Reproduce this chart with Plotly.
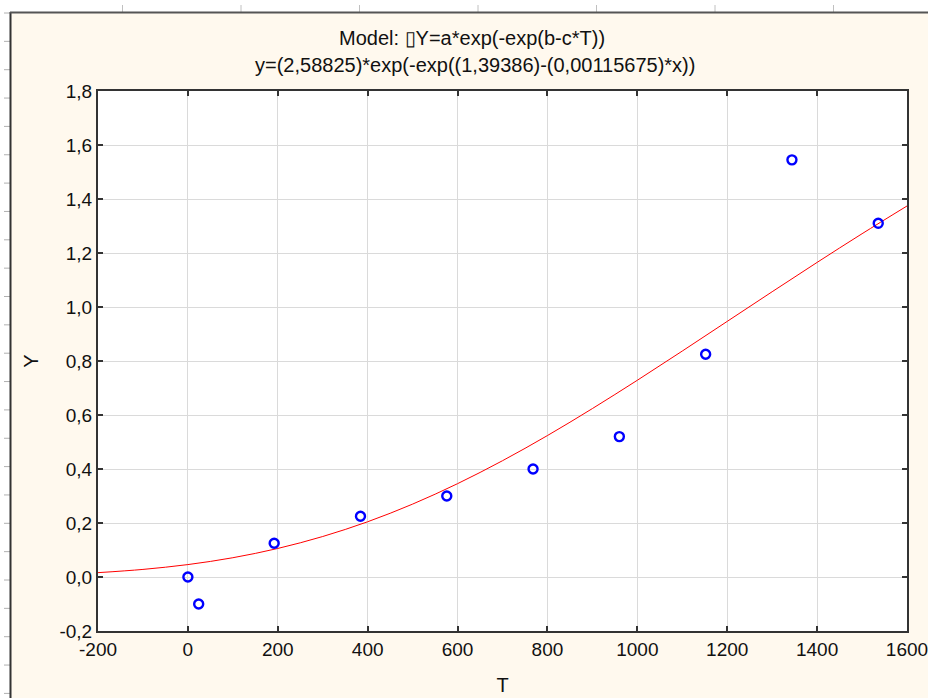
import plotly.graph_objects as go

# ---- data ----
T_obs = [0, 24, 192, 384, 576, 768, 960, 1152, 1344, 1536]
Y_obs = [0.0, -0.10, 0.125, 0.225, 0.30, 0.40, 0.52, 0.825, 1.545, 1.31]

# fitted model curve (values along the red line)
curve_T = [-200, -100, 0, 100, 200, 300, 400, 500, 600, 700, 800, 900,
           1000, 1100, 1200, 1300, 1400, 1500, 1600]
curve_Y = [0.0161, 0.0281, 0.0460, 0.0714, 0.1057, 0.1500, 0.2046, 0.2700,
           0.3457, 0.4307, 0.5239, 0.6238, 0.7287, 0.8368, 0.9467, 1.0566,
           1.1652, 1.2714, 1.3741]

x_tickvals = [-200, 0, 200, 400, 600, 800, 1000, 1200, 1400, 1600]
x_ticktext = ["-200", "0", "200", "400", "600", "800", "1000", "1200", "1400", "1600"]
y_tickvals = [-0.2, 0.0, 0.2, 0.4, 0.6, 0.8, 1.0, 1.2, 1.4, 1.6, 1.8]
y_ticktext = ["-0,2", "0,0", "0,2", "0,4", "0,6", "0,8", "1,0", "1,2", "1,4", "1,6", "1,8"]

title_line1 = "Model: \u25afY=a*exp(-exp(b-c*T))"
title_line2 = "y=(2,58825)*exp(-exp((1,39386)-(0,00115675)*x))"

# ---- layout geometry (pixels) ----
W, H = 928, 698
L, R, TOP, BOT = 98, 907, 91, 631
FONT = "Liberation Sans, Arial, sans-serif"
CREAM = "#FFF9EE"


def px(x):
    return (x - L) / (R - L)


def py(y):
    return (BOT - y) / (BOT - TOP)


fig = go.Figure()
fig.add_trace(go.Scatter(
    x=curve_T, y=curve_Y, mode="lines",
    line=dict(color="#FF0000", width=1, shape="spline"),
    showlegend=False, hoverinfo="skip"))
fig.add_trace(go.Scatter(
    x=T_obs, y=Y_obs, mode="markers",
    marker=dict(symbol="circle-open", size=9, color="#0000FF",
                line=dict(width=2.4, color="#0000FF")),
    showlegend=False))

shapes = []
# white frame outside the window
shapes.append(dict(type="rect", xref="paper", yref="paper",
                   x0=px(0), x1=px(10), y0=py(H), y1=py(0),
                   fillcolor="white", line=dict(width=0), layer="below"))
shapes.append(dict(type="rect", xref="paper", yref="paper",
                   x0=px(0), x1=px(W), y0=py(12), y1=py(0),
                   fillcolor="white", line=dict(width=0), layer="below"))
# ruler ticks (left and top)
yy = 13.0
while yy < H:
    shapes.append(dict(type="line", xref="paper", yref="paper",
                       x0=px(4), x1=px(10), y0=py(yy), y1=py(yy),
                       line=dict(color="#B0B0B0", width=1)))
    yy += 28.35
xx = 122.5
while xx < W:
    shapes.append(dict(type="line", xref="paper", yref="paper",
                       x0=px(xx), x1=px(xx), y0=py(5), y1=py(12),
                       line=dict(color="#C0C0C0", width=1)))
    xx += 118.5
# window edges
shapes.append(dict(type="line", xref="paper", yref="paper",
                   x0=px(10.5), x1=px(10.5), y0=py(12), y1=py(H),
                   line=dict(color="#333333", width=2)))
shapes.append(dict(type="line", xref="paper", yref="paper",
                   x0=px(10), x1=px(W), y0=py(12.5), y1=py(12.5),
                   line=dict(color="#555555", width=2)))

annotations = [
    dict(text=title_line1, xref="paper", yref="paper", x=px(472), y=py(38),
         xanchor="center", yanchor="middle", showarrow=False,
         font=dict(family=FONT, size=20, color="#111111")),
    dict(text=title_line2, xref="paper", yref="paper", x=px(475), y=py(65),
         xanchor="center", yanchor="middle", showarrow=False,
         font=dict(family=FONT, size=20, color="#111111")),
]

axis_common = dict(
    showline=True, linecolor="#333333", linewidth=2, mirror="ticks",
    ticks="inside", ticklen=5, tickwidth=1.5, tickcolor="#333333",
    showgrid=True, gridcolor="#DADADA", gridwidth=1, zeroline=False,
    tickfont=dict(family=FONT, size=19, color="#111111"),
    ticklabeloverflow="allow",
)

fig.update_layout(
    width=W, height=H,
    margin=dict(l=L, r=W - R, t=TOP, b=H - BOT, autoexpand=False),
    paper_bgcolor=CREAM, plot_bgcolor="white",
    font=dict(family=FONT, color="#111111"),
    xaxis=dict(range=[-200, 1600], tickvals=x_tickvals, ticktext=x_ticktext,
               title=dict(text="T", font=dict(family=FONT, size=20), standoff=19),
               **axis_common),
    yaxis=dict(range=[-0.2, 1.8], tickvals=y_tickvals, ticktext=y_ticktext,
               title=dict(text="Y", font=dict(family=FONT, size=20), standoff=15),
               **axis_common),
    shapes=shapes,
    annotations=annotations,
    showlegend=False,
)

fig.write_html("out.html",
               config={"displayModeBar": False},
               post_script="document.body.style.margin='0';document.body.style.padding='0';")
